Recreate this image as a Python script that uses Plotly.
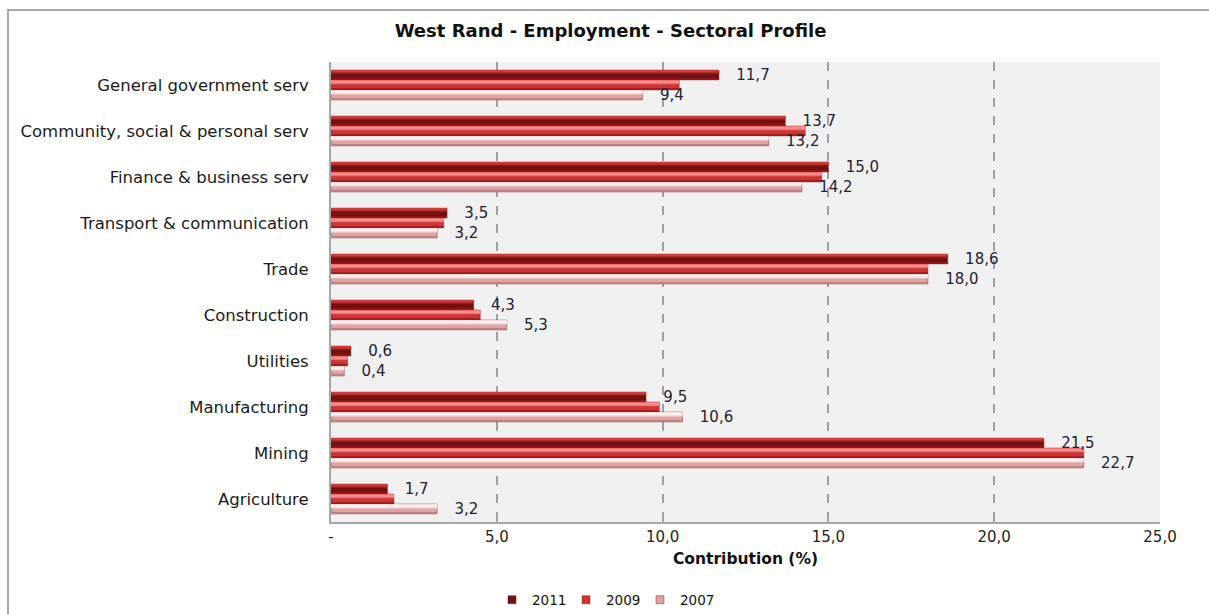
import plotly.graph_objects as go

# Sectors, listed top to bottom as they appear on the chart
sectors = [
    "General government serv",
    "Community, social & personal serv",
    "Finance & business serv",
    "Transport & communication",
    "Trade",
    "Construction",
    "Utilities",
    "Manufacturing",
    "Mining",
    "Agriculture",
]

# Contribution to employment (%)
emp_2011 = [11.7, 13.7, 15.0, 3.5, 18.6, 4.3, 0.6, 9.5, 21.5, 1.7]
emp_2009 = [10.5, 14.3, 14.8, 3.4, 18.0, 4.5, 0.5, 9.9, 22.7, 1.9]
emp_2007 = [9.4, 13.2, 14.2, 3.2, 18.0, 5.3, 0.4, 10.6, 22.7, 3.2]

tick_vals = [0, 5, 10, 15, 20, 25]
tick_text = ["-", "5,0", "10,0", "15,0", "20,0", "25,0"]

W, H = 1209, 614
L, R, T, B = 331, 49, 62, 92
PW, PH = W - L - R, H - T - B

bar_w = 0.215
series = [
    # name, values, offset, base colour, shading bands (offset-from-bar-bottom, width, colour)
    ("2011", emp_2011, 0.11, "#741010",
     [(0.0, 0.04, "#8e1a1a"), (0.14, 0.075, "#b42a2a"), (0.175, 0.025, "#cc3a3a")]),
    ("2009", emp_2009, -0.1075, "#cf3434",
     [(0.0, 0.045, "#a61e1e"), (0.125, 0.09, "#ee7070"), (0.165, 0.03, "#f79090")]),
    ("2007", emp_2007, -0.325, "#e2a2a2",
     [(0.0, 0.045, "#c07f7f"), (0.12, 0.095, "#f8d8d8"), (0.16, 0.035, "#fff4f4")]),
]

fig = go.Figure()

for name, vals, off, base_col, bands in series:
    fig.add_trace(go.Bar(
        y=sectors, x=vals, orientation="h", name=name,
        offset=off, width=bar_w,
        marker=dict(color=base_col, line=dict(color="rgba(90,40,40,0.55)", width=0.8)),
        showlegend=False, hoverinfo="x+y",
    ))
    for b_off, b_w, b_col in bands:
        fig.add_trace(go.Bar(
            y=sectors, x=vals, orientation="h",
            offset=off + b_off, width=b_w,
            marker=dict(color=b_col, line=dict(width=0)),
            showlegend=False, hoverinfo="skip",
        ))

# Value labels for 2011 and 2007
pad = "\u00a0" * 3
for vals, off in ((emp_2011, 0.11), (emp_2007, -0.325)):
    fig.add_trace(go.Bar(
        y=sectors, x=vals, orientation="h",
        offset=off, width=bar_w,
        marker=dict(color="rgba(0,0,0,0)", line=dict(width=0)),
        text=[pad + f"{v:.1f}".replace(".", ",") for v in vals],
        textposition="outside", constraintext="none", cliponaxis=False,
        textfont=dict(family="DejaVu Sans", size=15, color="#222233"),
        showlegend=False, hoverinfo="skip",
    ))

# Legend entries
for name, _, _, col, _ in series:
    fig.add_trace(go.Scatter(
        x=[None], y=[None], mode="markers", name=name,
        marker=dict(symbol="square", size=8, color=col,
                    line=dict(color="rgba(90,40,40,0.6)", width=0.8)),
    ))

fig.update_layout(
    width=W, height=H,
    margin=dict(l=L, r=R, t=T, b=B, autoexpand=False),
    barmode="overlay",
    paper_bgcolor="white",
    plot_bgcolor="#f0f0f0",
    title=dict(
        text="<b>West Rand - Employment - Sectoral Profile</b>",
        x=0.505, xanchor="center", y=1 - 31 / H, yanchor="middle",
        font=dict(family="DejaVu Sans", size=18, color="#111111"),
    ),
    xaxis=dict(
        range=[0, 25], tickvals=tick_vals, ticktext=tick_text,
        showgrid=True, gridcolor="#a0a0a0", gridwidth=1.5, griddash="dash",
        zeroline=False, showline=True, linecolor="#a6a6a6", linewidth=2,
        ticks="inside", ticklen=4, tickcolor="#a6a6a6", tickwidth=1.5,
        tickfont=dict(family="DejaVu Sans", size=15, color="#222222"),
        title=dict(text="<b>Contribution (%)</b>", standoff=8,
                   font=dict(family="DejaVu Sans", size=15.5, color="#111111")),
        fixedrange=True,
    ),
    yaxis=dict(
        type="category", categoryorder="array", categoryarray=sectors[::-1],
        range=[-0.5, len(sectors) - 0.5],
        showgrid=False, zeroline=False,
        showline=True, linecolor="#a6a6a6", linewidth=2,
        ticks="", ticklabelstandoff=17,
        tickfont=dict(family="DejaVu Sans", size=16.5, color="#1a1a1a"),
        fixedrange=True,
    ),
    legend=dict(
        orientation="h", x=(603 - L) / PW, xanchor="center",
        y=(H - B - 600) / PH, yanchor="middle",
        font=dict(family="DejaVu Sans", size=13.5, color="#111111"),
        itemwidth=30, entrywidth=29, entrywidthmode="pixels",
        tracegroupgap=0, bgcolor="rgba(0,0,0,0)",
    ),
    shapes=[
        dict(type="rect", xref="paper", yref="paper",
             x0=(8 - L) / PW, x1=(1230 - L) / PW,
             y0=(H - B - 640) / PH, y1=(H - B - 10) / PH,
             line=dict(color="#8c8c8c", width=1.5), fillcolor="rgba(0,0,0,0)",
             layer="below"),
    ],
)

fig.write_html("out.html")
